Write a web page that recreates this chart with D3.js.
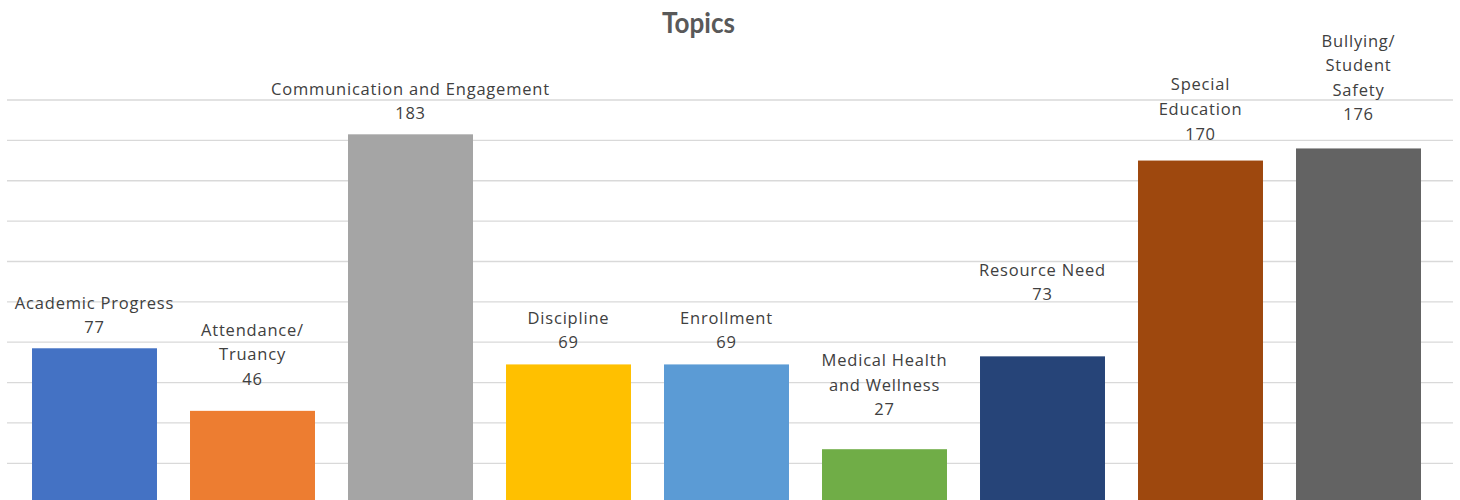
<!DOCTYPE html>
<html>
<head>
<meta charset="utf-8">
<script src="https://cdn.jsdelivr.net/npm/d3@7"></script>
<style>
  html, body { margin: 0; padding: 0; background: #fff; overflow: hidden; }
  svg { display: block; }
</style>
</head>
<body>
<svg id="chart" width="1460" height="500"></svg>
<script>
// ---- data ----
const title = "Topics";
const categories = [
  "Academic Progress",
  "Attendance/\nTruancy",
  "Communication and Engagement",
  "Discipline",
  "Enrollment",
  "Medical Health\nand Wellness",
  "Resource Need",
  "Special\nEducation",
  "Bullying/\nStudent\nSafety"
];
const values = [77, 46, 183, 69, 69, 27, 73, 170, 176];
const yTicks = [0, 20, 40, 60, 80, 100, 120, 140, 160, 180, 200];

// ---- styling / layout ----
const colors = ["#4472C4", "#ED7D31", "#A5A5A5", "#FFC000", "#5B9BD5",
                "#70AD47", "#264478", "#9E480E", "#636363"];
const labelGap = [15, 26, 15, 16, 16, 34, 56, 21, 28]; // px between value baseline and bar top
const lineH = 24.6;

const svg = d3.select("#chart");

const x = d3.scaleBand()
  .domain(categories)
  .range([15.5, 1437.5])
  .paddingInner(0.209)
  .paddingOuter(0.1045);

const y = d3.scaleLinear().domain([0, 200]).range([503.7, 100]);

// gridlines
svg.append("g").selectAll("line")
  .data(yTicks.filter(t => t > 0))
  .join("line")
  .attr("x1", 7).attr("x2", 1453)
  .attr("y1", d => y(d)).attr("y2", d => y(d))
  .attr("stroke", "#D9D9D9").attr("stroke-width", 1.3);

// bars
svg.append("g").selectAll("rect")
  .data(values)
  .join("rect")
  .attr("x", (d, i) => x(categories[i]))
  .attr("width", x.bandwidth())
  .attr("y", d => y(d))
  .attr("height", d => y(0) - y(d))
  .attr("fill", (d, i) => colors[i]);

// title
svg.append("text")
  .attr("x", 698.5).attr("y", 33)
  .attr("text-anchor", "middle")
  .attr("font-family", "Lato, 'Open Sans', sans-serif")
  .attr("font-weight", "bold")
  .attr("font-size", 28)
  .attr("fill", "#595959")
  .attr("textLength", 73)
  .attr("lengthAdjust", "spacingAndGlyphs")
  .text(title);

// labels
const fontFam = "'Open Sans', sans-serif";
const fontSize = 16.5;
// fit letter spacing to the reference's width of the widest label
const probe = svg.append("text").attr("font-family", fontFam).attr("font-size", fontSize)
  .text("Communication and Engagement");
const w = probe.node().getComputedTextLength();
probe.remove();
const ls = (278 - w) / 27;

const lg = svg.append("g")
  .attr("font-family", fontFam)
  .attr("font-size", fontSize)
  .attr("fill", "#404040")
  .attr("text-anchor", "middle")
  .style("letter-spacing", ls + "px");

values.forEach((v, i) => {
  const cx = x(categories[i]) + x.bandwidth() / 2;
  const lines = categories[i].split("\n").concat([String(v)]);
  const base = y(v) - labelGap[i];
  lines.forEach((t, k) => {
    lg.append("text")
      .attr("x", cx)
      .attr("y", base - (lines.length - 1 - k) * lineH)
      .text(t);
  });
});
</script>
</body>
</html>
